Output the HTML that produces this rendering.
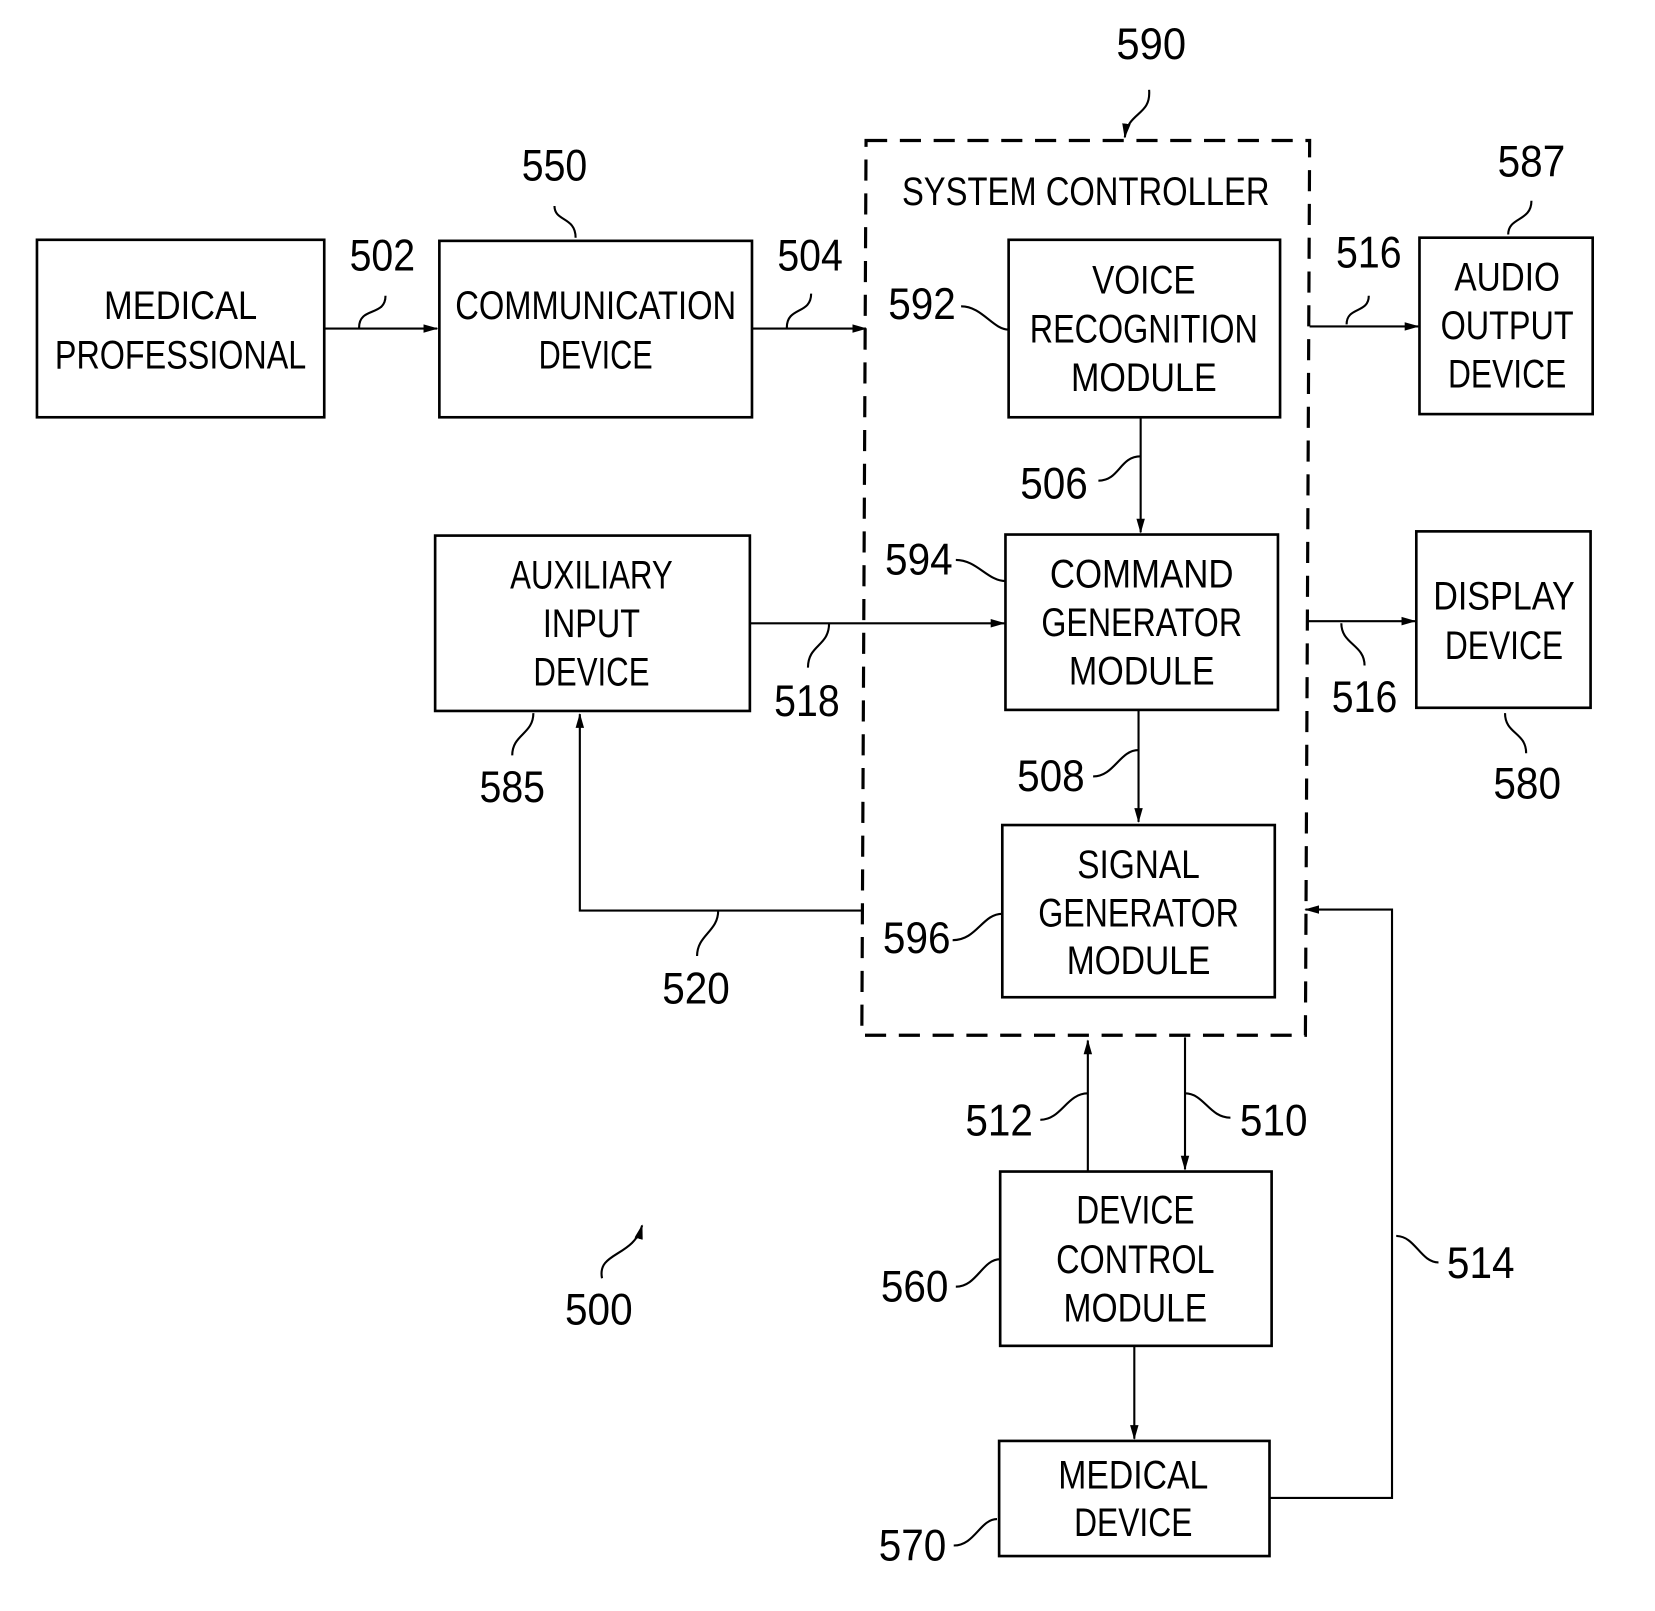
<!DOCTYPE html>
<html><head><meta charset="utf-8"><style>html,body{margin:0;padding:0;background:#fff}svg{display:block}</style></head>
<body>
<svg width="1655" height="1611" viewBox="0 0 1567 1525" preserveAspectRatio="none" xmlns="http://www.w3.org/2000/svg">
<defs><marker id="a" markerWidth="14" markerHeight="10" refX="13" refY="5" orient="auto" markerUnits="userSpaceOnUse"><path d="M0,1 L14,5 L0,9 Z" fill="#000"/></marker></defs>
<g fill="none" stroke="#000" stroke-width="2.5">
<rect x="35" y="227" width="272" height="168"/>
<rect x="416" y="228" width="296" height="167"/>
<rect x="955" y="227" width="257" height="168"/>
<rect x="952" y="506" width="258" height="166"/>
<rect x="412" y="507" width="298" height="166"/>
<rect x="1341" y="503" width="165" height="167"/>
<rect x="1344" y="225" width="164" height="167"/>
<rect x="949" y="781" width="258" height="163"/>
<rect x="947" y="1109" width="257" height="165"/>
<rect x="946" y="1364" width="256" height="109"/>
<path d="M820,133 L1240,133 L1236,980 L816,980 Z" stroke-dasharray="20,12" stroke-width="3"/>
</g>
<g fill="none" stroke="#000" stroke-width="2">
<path d="M307,311 H414" marker-end="url(#a)"/>
<path d="M712,311 H820" marker-end="url(#a)"/>
<path d="M1080,395 V504" marker-end="url(#a)"/>
<path d="M710,590 H951" marker-end="url(#a)"/>
<path d="M1240,309 H1343" marker-end="url(#a)"/>
<path d="M1238,588 H1340" marker-end="url(#a)"/>
<path d="M1078,672 V778" marker-end="url(#a)"/>
<path d="M818,862 H549 V676" marker-end="url(#a)"/>
<path d="M1203,1418 H1318 V861 H1236" marker-end="url(#a)"/>
<path d="M1030,1108 V985" marker-end="url(#a)"/>
<path d="M1122,982 V1107" marker-end="url(#a)"/>
<path d="M1074,1274 V1362" marker-end="url(#a)"/>
<path d="M1088,85 C1090,110 1068,105 1065,130" marker-end="url(#a)"/>
<path d="M570,1210 C565,1185 600,1190 608,1160" marker-end="url(#a)"/>
<path d="M545,225 C545,205 525,210 525,195"/>
<path d="M340,310 C340,290 365,300 365,280"/>
<path d="M745,310 C745,290 768,298 768,278"/>
<path d="M910,290 C930,290 940,312 955,312"/>
<path d="M1040,455 C1060,455 1060,432 1080,432"/>
<path d="M905,530 C925,530 935,550 952,550"/>
<path d="M765,632 C765,610 785,612 785,590"/>
<path d="M505,675 C505,695 485,695 485,715"/>
<path d="M1425,675 C1425,695 1445,693 1445,713"/>
<path d="M1450,190 C1450,210 1428,205 1428,222"/>
<path d="M1275,307 C1275,290 1296,297 1296,280"/>
<path d="M1270,590 C1270,610 1292,610 1292,630"/>
<path d="M1035,735 C1055,735 1060,710 1078,710"/>
<path d="M902,890 C925,890 930,865 949,865"/>
<path d="M660,905 C660,885 680,882 680,862"/>
<path d="M1322,1170 C1340,1170 1345,1195 1362,1195"/>
<path d="M985,1060 C1005,1060 1010,1035 1030,1035"/>
<path d="M1122,1035 C1140,1035 1145,1058 1165,1058"/>
<path d="M905,1218 C925,1218 930,1192 947,1192"/>
<path d="M903,1463 C923,1463 928,1438 944,1438"/>
</g>
<g font-family="Liberation Sans, sans-serif" font-size="38" text-anchor="middle" fill="#000">
<text x="171" y="302" textLength="145" lengthAdjust="spacingAndGlyphs">MEDICAL</text>
<text x="171" y="349" textLength="238" lengthAdjust="spacingAndGlyphs">PROFESSIONAL</text>
<text x="564" y="302" textLength="266" lengthAdjust="spacingAndGlyphs">COMMUNICATION</text>
<text x="564" y="349" textLength="108" lengthAdjust="spacingAndGlyphs">DEVICE</text>
<text x="1028" y="194" textLength="348" lengthAdjust="spacingAndGlyphs">SYSTEM CONTROLLER</text>
<text x="1083" y="278" textLength="98" lengthAdjust="spacingAndGlyphs">VOICE</text>
<text x="1083" y="324" textLength="216" lengthAdjust="spacingAndGlyphs">RECOGNITION</text>
<text x="1083" y="370" textLength="138" lengthAdjust="spacingAndGlyphs">MODULE</text>
<text x="1081" y="556" textLength="174" lengthAdjust="spacingAndGlyphs">COMMAND</text>
<text x="1081" y="602" textLength="190" lengthAdjust="spacingAndGlyphs">GENERATOR</text>
<text x="1081" y="648" textLength="138" lengthAdjust="spacingAndGlyphs">MODULE</text>
<text x="560" y="557" textLength="154" lengthAdjust="spacingAndGlyphs">AUXILIARY</text>
<text x="560" y="603" textLength="92" lengthAdjust="spacingAndGlyphs">INPUT</text>
<text x="560" y="649" textLength="110" lengthAdjust="spacingAndGlyphs">DEVICE</text>
<text x="1427" y="275" textLength="100" lengthAdjust="spacingAndGlyphs">AUDIO</text>
<text x="1427" y="321" textLength="126" lengthAdjust="spacingAndGlyphs">OUTPUT</text>
<text x="1427" y="367" textLength="112" lengthAdjust="spacingAndGlyphs">DEVICE</text>
<text x="1424" y="577" textLength="134" lengthAdjust="spacingAndGlyphs">DISPLAY</text>
<text x="1424" y="624" textLength="112" lengthAdjust="spacingAndGlyphs">DEVICE</text>
<text x="1078" y="831" textLength="116" lengthAdjust="spacingAndGlyphs">SIGNAL</text>
<text x="1078" y="877" textLength="190" lengthAdjust="spacingAndGlyphs">GENERATOR</text>
<text x="1078" y="922" textLength="136" lengthAdjust="spacingAndGlyphs">MODULE</text>
<text x="1075" y="1158" textLength="112" lengthAdjust="spacingAndGlyphs">DEVICE</text>
<text x="1075" y="1205" textLength="150" lengthAdjust="spacingAndGlyphs">CONTROL</text>
<text x="1075" y="1251" textLength="136" lengthAdjust="spacingAndGlyphs">MODULE</text>
<text x="1073" y="1409" textLength="142" lengthAdjust="spacingAndGlyphs">MEDICAL</text>
<text x="1073" y="1454" textLength="112" lengthAdjust="spacingAndGlyphs">DEVICE</text>
</g>
<g font-family="Liberation Sans, sans-serif" font-size="42" text-anchor="middle" fill="#000">
<text x="1090" y="56" textLength="66" lengthAdjust="spacingAndGlyphs">590</text>
<text x="525" y="171" textLength="62" lengthAdjust="spacingAndGlyphs">550</text>
<text x="362" y="256" textLength="62" lengthAdjust="spacingAndGlyphs">502</text>
<text x="767" y="256" textLength="62" lengthAdjust="spacingAndGlyphs">504</text>
<text x="1450" y="167" textLength="64" lengthAdjust="spacingAndGlyphs">587</text>
<text x="1296" y="253" textLength="62" lengthAdjust="spacingAndGlyphs">516</text>
<text x="873" y="302" textLength="64" lengthAdjust="spacingAndGlyphs">592</text>
<text x="998" y="472" textLength="64" lengthAdjust="spacingAndGlyphs">506</text>
<text x="870" y="544" textLength="64" lengthAdjust="spacingAndGlyphs">594</text>
<text x="764" y="678" textLength="62" lengthAdjust="spacingAndGlyphs">518</text>
<text x="1292" y="674" textLength="62" lengthAdjust="spacingAndGlyphs">516</text>
<text x="485" y="759" textLength="62" lengthAdjust="spacingAndGlyphs">585</text>
<text x="1446" y="756" textLength="64" lengthAdjust="spacingAndGlyphs">580</text>
<text x="995" y="749" textLength="64" lengthAdjust="spacingAndGlyphs">508</text>
<text x="868" y="902" textLength="64" lengthAdjust="spacingAndGlyphs">596</text>
<text x="659" y="950" textLength="64" lengthAdjust="spacingAndGlyphs">520</text>
<text x="946" y="1075" textLength="64" lengthAdjust="spacingAndGlyphs">512</text>
<text x="1206" y="1075" textLength="64" lengthAdjust="spacingAndGlyphs">510</text>
<text x="1402" y="1210" textLength="64" lengthAdjust="spacingAndGlyphs">514</text>
<text x="866" y="1232" textLength="64" lengthAdjust="spacingAndGlyphs">560</text>
<text x="567" y="1254" textLength="64" lengthAdjust="spacingAndGlyphs">500</text>
<text x="864" y="1477" textLength="64" lengthAdjust="spacingAndGlyphs">570</text>
</g>
</svg>
</body></html>
